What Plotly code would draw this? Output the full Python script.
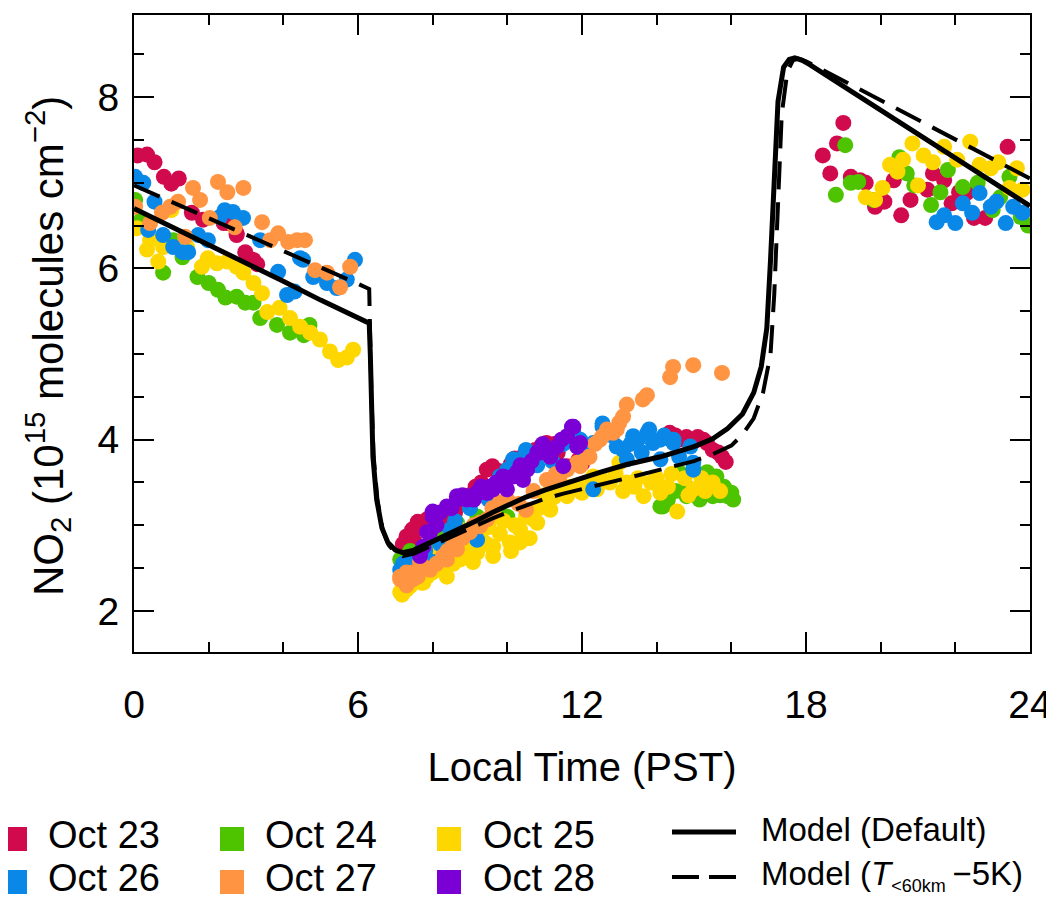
import plotly.graph_objects as go

# ---------------- data ----------------
days = ["Oct 23", "Oct 24", "Oct 25", "Oct 26", "Oct 27", "Oct 28"]
day_colors = ["#D00A4C", "#4EC300", "#FFD700", "#0A88E8", "#FF9442", "#7A00D6"]

oct23_t = [0.10, 0.35, 0.55, 0.80, 1.00, 1.20, 1.55, 1.85, 2.40, 2.50, 2.75, 2.75, 2.98, 3.20, 3.30,
           7.20, 7.30, 7.45, 7.50, 7.60, 7.70, 7.85, 8.05, 8.20, 8.30, 8.60, 8.90, 9.00, 9.15, 9.30,
           9.45, 9.60, 9.80, 9.90, 10.10, 10.20, 10.40, 10.60, 10.75, 10.90, 11.05, 11.25, 11.35,
           11.60, 11.90, 12.00, 14.35, 14.50, 14.60, 14.80, 15.00, 15.10, 15.25, 15.35, 15.50, 15.65,
           15.75, 15.85,
           18.45, 18.65, 18.83, 19.00, 19.20, 19.45, 19.60, 19.85, 20.10, 20.35, 20.55, 20.80, 21.25,
           21.40, 21.70, 21.90, 22.10, 22.30, 22.50, 22.80, 23.40, 23.80]
oct23_no2 = [7.32, 7.33, 7.24, 7.07, 6.99, 7.05, 6.65, 6.57, 6.53, 6.53, 6.41, 6.39, 6.19, 6.10, 6.05,
             2.78, 2.87, 2.95, 2.82, 3.04, 2.97, 3.07, 3.02, 2.95, 3.08, 3.15, 3.25, 3.35, 3.45, 3.50,
             3.65, 3.69, 3.63, 3.60, 3.72, 3.78, 3.80, 3.85, 3.88, 3.92, 3.96, 3.95, 3.85,
             3.69, 3.76, 3.72, 4.08, 4.05, 4.00, 4.03, 3.98, 4.03, 4.00, 3.96, 3.88, 3.85,
             3.80, 3.74,
             7.32, 7.11, 7.46, 7.70, 7.07, 7.03, 7.00, 6.72, 6.78, 7.03, 6.62, 6.80, 6.92,
             7.11, 7.03, 6.76, 6.89, 6.88, 6.59, 6.59, 7.42, 6.65]

oct24_t = [0.03, 0.20, 0.78, 1.05, 1.30, 1.70, 2.00, 2.25, 2.45, 2.75, 2.98, 3.20, 3.38, 3.83, 4.18,
           4.55, 4.70,
           7.13, 7.25, 7.30, 7.40, 7.50, 7.70, 8.00, 8.30, 8.65, 9.20, 9.50, 10.00, 14.10, 14.17,
           14.30, 14.50, 14.60, 14.80, 14.80, 15.00, 15.15, 15.25, 15.35, 15.35, 15.50, 15.60, 15.70,
           15.80, 15.90, 16.00, 16.05,
           18.80, 19.05, 19.20, 19.40, 19.80, 20.50, 20.70, 20.90, 21.35, 21.60, 21.80, 22.20, 22.60,
           23.00, 23.20, 23.45, 23.75, 23.95]
oct24_no2 = [6.80, 6.57, 5.95, 6.33, 6.13, 5.90, 5.83, 5.75, 5.66, 5.67, 5.60, 5.60, 5.42, 5.34, 5.25,
             5.22, 5.34,
             2.60, 2.52, 2.58, 2.70, 2.65, 2.62, 2.78, 2.85, 3.03, 3.10, 3.05, 3.10, 3.22, 3.22,
             3.30, 3.40, 3.62, 3.34, 3.45, 3.38, 3.30, 3.42, 3.50, 3.62, 3.34, 3.57, 3.35,
             3.45, 3.34, 3.38, 3.30,
             6.86, 7.44, 7.00, 7.01, 6.80, 7.30, 7.11, 6.97, 6.74, 6.89, 7.15, 6.95, 7.00,
             6.68, 6.83, 7.07, 6.60, 6.50]

oct25_t = [0.08, 0.35, 0.43, 0.65, 0.78, 1.00, 1.42, 1.82, 1.98, 2.22, 2.50, 2.75, 2.93, 3.20, 3.43,
           3.57, 3.90, 4.18, 4.45, 4.72, 4.98, 5.25, 5.47, 5.70, 5.87,
           7.13, 7.18, 7.25, 7.30, 7.40, 7.55, 7.60, 7.70, 7.75, 7.85, 7.90, 8.00, 8.10, 8.20, 8.28,
           8.38, 8.40, 8.50, 8.55, 8.73, 8.73, 8.85, 8.90, 9.00, 9.08, 9.10, 9.19, 9.27, 9.30, 9.45,
           9.50, 9.62, 9.62, 9.62, 9.80, 9.90, 10.07, 10.10, 10.20, 10.34, 10.34, 10.50, 10.60, 10.70,
           10.80, 10.85, 11.00, 11.05, 11.15, 11.25, 11.30, 11.40, 11.50, 11.60, 11.70, 11.87, 12.00,
           12.10, 12.30, 12.40, 12.50, 12.75, 12.90, 13.00, 13.10, 13.20, 13.40, 13.50, 13.65, 13.85,
           14.00, 14.10, 14.30, 14.40, 14.55, 14.75, 14.85, 14.98, 15.20, 15.30, 15.50, 15.70,
           19.60, 19.85, 20.05, 20.25, 20.45, 20.60, 20.85, 21.00, 21.15, 21.40, 21.70, 22.05, 22.40,
           22.65, 22.95, 23.15, 23.45, 23.65, 23.80]
oct25_no2 = [6.47, 6.22, 6.33, 6.08, 6.25, 6.68, 6.25, 6.02, 6.12, 6.06, 6.08, 6.02, 5.95, 5.83, 5.71,
             5.49, 5.54, 5.42, 5.32, 5.25, 5.17, 5.03, 4.93, 4.96, 5.05,
             2.22, 2.19, 2.45, 2.25, 2.29, 2.35, 2.50, 2.33, 2.33, 2.40, 2.60, 2.45, 2.55, 2.70, 2.48,
             2.40, 2.60, 2.80, 2.55, 2.60, 2.95, 2.72, 2.85, 2.65, 2.57, 2.95, 2.68, 2.95, 2.85, 2.78,
             2.98, 2.75, 3.10, 2.64, 2.90, 3.05, 2.80, 2.70, 3.00, 2.95, 2.80, 3.10, 2.85, 3.07,
             3.03, 3.20, 3.35, 3.27, 3.18, 3.33, 3.45, 3.62, 3.38, 3.34, 3.45, 3.45, 3.38,
             3.50, 3.57, 3.42, 3.55, 3.50, 3.60, 3.73, 3.40, 3.50, 3.45, 3.55, 3.34, 3.50,
             3.55, 3.38, 3.45, 3.60, 3.16, 3.55, 3.35, 3.42, 3.55, 3.40, 3.50, 3.40,
             6.83, 6.80, 6.94, 7.21, 7.13, 7.27, 7.46, 6.97, 7.32, 7.24, 7.42, 7.27, 7.48,
             7.21, 7.17, 7.24, 6.94, 7.17, 6.92]

oct26_t = [0.03, 0.25, 0.38, 0.55, 0.78, 1.05, 1.30, 1.45, 1.72, 1.98, 2.30, 2.43, 2.65, 2.92, 3.38,
           3.86, 4.10, 4.30, 4.45, 4.53, 4.80, 5.17, 5.43, 5.70, 5.92,
           7.13, 7.20, 7.30, 7.50, 7.60, 7.80, 8.00, 8.20, 8.47, 8.60, 9.00, 9.19, 9.30, 9.50, 9.80,
           9.80, 10.00, 10.15, 10.34, 10.50, 10.70, 10.80, 11.00, 11.20, 11.50, 11.77, 11.95, 12.00,
           12.30, 12.30, 12.55, 12.55, 12.80, 12.93, 13.10, 13.20, 13.30, 13.37, 13.50, 13.60, 13.75,
           13.80, 13.90, 14.10, 14.10, 14.20, 14.45, 14.45, 14.60, 14.90, 14.98, 14.98,
           21.50, 21.70, 22.00, 22.20, 22.45, 22.65, 22.95, 23.10, 23.35, 23.55, 23.80]
oct26_no2 = [7.07, 7.00, 6.45, 6.78, 6.39, 6.25, 6.19, 6.19, 6.39, 6.33, 6.60, 6.68, 6.66, 6.59, 6.33,
             5.96, 5.69, 5.73, 6.12, 6.10, 5.90, 5.83, 5.77, 5.87, 6.10,
             2.48, 2.55, 2.40, 2.62, 2.55, 2.70, 2.57, 2.78, 2.95, 3.05, 3.20, 2.83, 3.40, 3.30, 3.53,
             3.57, 3.65, 3.77, 3.77, 3.88, 3.80, 3.70, 3.85, 3.75, 3.95, 4.08, 4.00, 3.90,
             3.96, 3.42, 4.15, 4.19, 4.05, 3.92, 3.88, 3.77, 3.95, 4.04, 4.00, 3.85, 4.08,
             4.12, 3.96, 3.77, 4.00, 4.05, 4.00, 3.96, 3.80, 3.92, 3.73, 3.65,
             6.54, 6.62, 6.53, 6.76, 6.65, 6.88, 6.72, 6.78, 6.53, 6.72, 6.65]

oct27_t = [0.03, 0.43, 0.75, 0.97, 1.18, 1.37, 1.58, 1.77, 2.03, 2.25, 2.50, 2.70, 2.93, 3.43, 3.65,
           3.86, 4.13, 4.37, 4.58, 4.85, 5.17, 5.52, 5.79,
           7.13, 7.13, 7.30, 7.30, 7.47, 7.47, 7.60, 7.66, 7.80, 7.93, 8.10, 8.28, 8.38, 8.40, 8.55,
           8.65, 8.80, 9.00, 9.10, 9.27, 9.27, 9.46, 9.60, 9.62, 9.80, 10.00, 10.30, 10.50, 10.70,
           11.06, 11.15, 11.30, 11.40, 11.60, 11.87, 11.95, 12.13, 12.20, 12.35, 12.48, 12.55, 12.67,
           12.83, 12.93, 13.00, 13.10, 13.20, 13.63, 13.74, 14.36, 14.44, 14.98, 15.75]
oct27_no2 = [6.72, 6.53, 6.65, 6.72, 6.78, 6.37, 6.94, 6.80, 6.59, 7.01, 6.89, 6.48, 6.94, 6.54, 6.33,
             6.41, 6.31, 6.33, 6.33, 5.98, 5.95, 5.78, 6.02,
             2.37, 2.40, 2.45, 2.30, 2.37, 2.45, 2.40, 2.57, 2.50, 2.48, 2.55, 2.64, 2.60, 2.70, 2.80,
             2.72, 2.85, 2.92, 3.00, 2.99, 3.03, 3.07, 3.20, 3.15, 3.27, 3.30, 3.25, 3.18, 3.40,
             3.53, 3.53, 3.60, 3.57, 3.65, 3.73, 3.69, 3.79, 3.80, 3.95, 4.00, 4.04, 4.12,
             4.08, 4.12, 4.20, 4.27, 4.41, 4.47, 4.52, 4.73, 4.85, 4.87, 4.78]

oct28_t = [7.66, 7.66, 7.75, 7.85, 7.93, 8.00, 8.00, 8.10, 8.20, 8.38, 8.50, 8.65, 8.65, 8.80, 8.92,
           9.00, 9.10, 9.19, 9.30, 9.35, 9.46, 9.54, 9.62, 9.70, 9.88, 9.99, 10.00, 10.15, 10.26,
           10.35, 10.42, 10.53, 10.65, 10.80, 10.88, 10.95, 11.06, 11.15, 11.22, 11.33, 11.45, 11.50,
           11.60, 11.73, 11.77, 11.87, 11.95]
oct28_no2 = [2.64, 2.68, 2.75, 2.92, 2.92, 3.10, 3.16, 3.00, 3.15, 3.22, 3.20, 3.30, 3.34, 3.35, 3.30,
             3.34, 3.30, 3.38, 3.45, 3.39, 3.38, 3.45, 3.42, 3.50, 3.57, 3.42, 3.55, 3.57, 3.62,
             3.70, 3.53, 3.65, 3.75, 3.85, 3.85, 3.95, 3.88, 3.80, 3.88, 3.92, 4.00, 3.69,
             4.04, 4.15, 4.15, 3.92, 3.96]

model_default_t = [0.0, 1.0, 2.0, 3.0, 4.0, 5.0, 6.0, 6.3, 6.33, 6.36, 6.40, 6.50, 6.64, 6.80, 7.00,
                   7.20, 7.50, 7.85, 8.30, 8.75, 9.20, 9.60, 10.0, 10.5, 11.0, 11.4, 12.0, 12.5, 13.2,
                   14.1, 15.0, 15.5, 15.9, 16.3, 16.6, 16.8, 16.95, 17.05, 17.15, 17.25, 17.4, 17.55,
                   17.7, 17.9, 18.1, 24.0]
model_default_no2 = [6.70, 6.49, 6.27, 6.06, 5.85, 5.63, 5.42, 5.36, 5.00, 4.50, 3.80, 3.30, 2.97, 2.80,
                     2.71, 2.68, 2.71, 2.78, 2.87, 2.96, 3.06, 3.15, 3.23, 3.33, 3.41, 3.46, 3.55, 3.62,
                     3.71, 3.80, 3.92, 4.01, 4.13, 4.30, 4.55, 4.85, 5.30, 6.10, 7.20, 7.95, 8.35, 8.44,
                     8.46, 8.43, 8.38, 6.73]

model_cold_t = [0.0, 1.0, 2.0, 3.0, 4.0, 5.0, 6.0, 6.3, 6.33, 6.36, 6.42, 6.52, 6.66, 6.82, 7.00,
                7.20, 7.50, 7.85, 8.30, 8.75, 9.20, 9.60, 10.0, 10.5, 11.0, 11.5, 12.0, 12.5, 13.2,
                14.1, 15.0, 15.5, 16.0, 16.3, 16.6, 16.85, 17.05, 17.15, 17.25, 17.35, 17.5, 17.65,
                17.8, 18.0, 24.0]
model_cold_no2 = [6.97, 6.78, 6.59, 6.39, 6.20, 6.01, 5.82, 5.76, 5.10, 4.50, 3.80, 3.30, 2.95, 2.77,
                  2.68, 2.64, 2.67, 2.74, 2.83, 2.92, 3.00, 3.08, 3.15, 3.23, 3.31, 3.37, 3.42, 3.47,
                  3.55, 3.65, 3.75, 3.83, 3.93, 4.06, 4.25, 4.55, 5.00, 5.70, 6.90, 7.80, 8.30, 8.43,
                  8.45, 8.42, 7.05]

x_ticks = [0, 6, 12, 18, 24]
y_ticks = [2, 4, 6, 8]

day_t = [oct23_t, oct24_t, oct25_t, oct26_t, oct27_t, oct28_t]
day_no2 = [oct23_no2, oct24_no2, oct25_no2, oct26_no2, oct27_no2, oct28_no2]

# ---------------- figure ----------------
OFF = 8                      # page body margin in the browser
W, H = 1054 - OFF, 899 - OFF
L, R, T, B = 134 - OFF, 24, 15 - OFF, 247
PW, PH = W - L - R, H - T - B
FONT = "Liberation Sans, Arial, Helvetica, sans-serif"

fig = go.Figure()
for name, t, v, c in zip(days, day_t, day_no2, day_colors):
    fig.add_trace(go.Scatter(x=t, y=v, mode="markers", name=name, showlegend=False,
                             marker=dict(color=c, size=16, line=dict(width=0))))

fig.add_trace(go.Scatter(x=model_default_t, y=model_default_no2, mode="lines",
                         name="Model (Default)", showlegend=False,
                         line=dict(color="black", width=5)))
fig.add_trace(go.Scatter(x=model_cold_t, y=model_cold_no2, mode="lines",
                         name="Model (T<60km - 5K)", showlegend=False,
                         line=dict(color="black", width=4, dash="28px,13px")))


def px(xp):
    # page pixel x -> paper coordinate
    return (xp - OFF - L) / PW


def py(yp):
    # page pixel y -> paper coordinate
    return (H - B - (yp - OFF)) / PH


shapes = []
annotations = []
col_sq = [3, 220, 437]
col_tx = [46, 263, 481]
row_c = [839, 882]
for i, (name, c) in enumerate(zip(days, day_colors)):
    r, k = divmod(i, 3)
    x0 = col_sq[k]
    yc = row_c[r]
    shapes.append(dict(type="rect", xref="paper", yref="paper",
                       x0=px(x0), x1=px(x0 + 24), y0=py(yc + 12), y1=py(yc - 12),
                       fillcolor=c, line=dict(width=0)))
    annotations.append(dict(xref="paper", yref="paper", x=px(col_tx[k]), y=py(yc - 4),
                            xanchor="left", yanchor="middle", showarrow=False, text=name,
                            font=dict(size=38, color="black", family=FONT)))

shapes.append(dict(type="line", xref="paper", yref="paper", x0=px(672), x1=px(736),
                   y0=py(832), y1=py(832), line=dict(color="black", width=5)))
shapes.append(dict(type="line", xref="paper", yref="paper", x0=px(672), x1=px(736),
                   y0=py(877), y1=py(877), line=dict(color="black", width=4, dash="27px,10px")))
annotations.append(dict(xref="paper", yref="paper", x=px(759), y=py(829), xanchor="left",
                        yanchor="middle", showarrow=False, text="Model (Default)",
                        font=dict(size=33, color="black", family=FONT)))
annotations.append(dict(xref="paper", yref="paper", x=px(759), y=py(875), xanchor="left",
                        yanchor="middle", showarrow=False,
                        text="Model (<i>T</i><sub><span style='font-size:18px'>&lt;60km</span></sub>"
                             "\u2009\u22125K)",
                        font=dict(size=33, color="black", family=FONT)))

# y-axis title as a rotated annotation (placed where the reference shows it)
annotations.append(dict(xref="paper", yref="paper", x=px(47), y=py(346),
                        xanchor="center", yanchor="middle", showarrow=False, textangle=-90,
                        text="NO<sub>2</sub> (10<sup>15</sup> molecules cm<sup>\u22122</sup>)",
                        font=dict(size=42, color="black", family=FONT)))

axis_common = dict(showline=True, linecolor="black", linewidth=2, mirror="allticks",
                   ticks="inside", tickcolor="black", tickwidth=2, ticklen=20,
                   showgrid=False, zeroline=False,
                   tickfont=dict(size=39, color="black", family=FONT))

fig.update_xaxes(range=[0, 24], tickvals=x_ticks, ticktext=[str(v) for v in x_ticks],
                 minor=dict(dtick=2, tick0=0, ticks="inside", ticklen=10, tickwidth=2,
                            tickcolor="black", showgrid=False),
                 ticklabelstandoff=17,
                 title=dict(text="Local Time (PST)", standoff=28,
                            font=dict(size=40, color="black", family=FONT)),
                 **axis_common)
fig.update_yaxes(range=[1.52, 8.96], tickvals=y_ticks, ticktext=[str(v) for v in y_ticks],
                 minor=dict(dtick=0.5, tick0=0, ticks="inside", ticklen=10, tickwidth=2,
                            tickcolor="black", showgrid=False),
                 ticklabelstandoff=5,
                 **axis_common)

fig.update_layout(width=W, height=H, autosize=False,
                  margin=dict(l=L, r=R, t=T, b=B, autoexpand=False),
                  paper_bgcolor="white", plot_bgcolor="white",
                  font=dict(family=FONT, color="black"),
                  showlegend=False, shapes=shapes, annotations=annotations)

fig.write_html("out.html")
